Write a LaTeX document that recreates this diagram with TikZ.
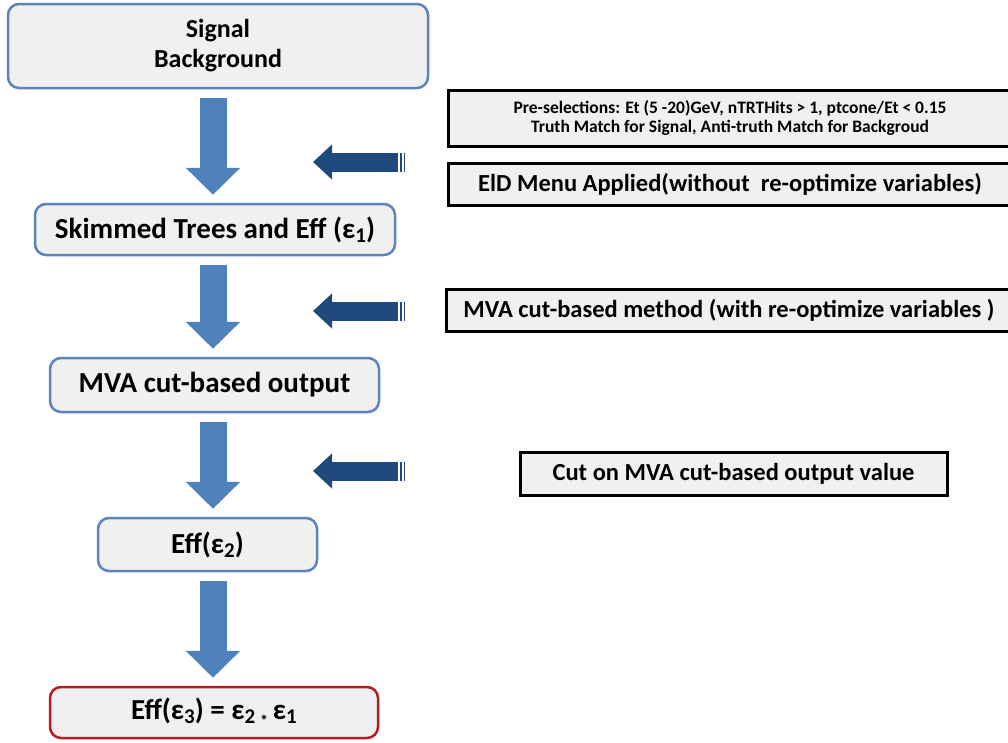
\documentclass[tikz,border=0pt]{standalone}
\usepackage{fontspec}
\setmainfont{Carlito}
\usetikzlibrary{arrows.meta}
\definecolor{boxblue}{RGB}{92,132,186}
\definecolor{arrblue}{RGB}{79,129,189}
\definecolor{darkarr}{RGB}{31,73,125}
\definecolor{boxfill}{RGB}{240,240,240}
\definecolor{boxred}{RGB}{180,30,35}
\newcommand{\eps}[1]{ε\raisebox{-4pt}{\fontsize{21}{21}\selectfont #1}}
\begin{document}
\begin{tikzpicture}[x=1pt,y=-1pt,
        flowbox/.style={draw=boxblue, line width=2.5pt, fill=boxfill, rounded corners=11pt,
            inner sep=0pt, font=\fontsize{29}{32}\selectfont\bfseries, align=center},
        resbox/.style={flowbox, draw=boxred},
        notebox/.style={draw=black, line width=3pt, fill=boxfill, inner sep=0pt,
            font=\fontsize{24.5}{26}\selectfont\bfseries, align=center},
        downarr/.style={draw=arrblue, line width=27pt, shorten <=9pt, shorten >=8pt,
            -{Triangle[width=53pt,length=27pt]}},
        leftarr/.style={draw=darkarr, line width=19pt,
            -{Triangle[width=34pt,length=19pt]}}]
        \clip (0,0) rectangle (1008,742);
        \fill[white] (0,0) rectangle (1008,742);
        \coordinate (col) at (213,0);
        \node[flowbox, minimum width=420pt, minimum height=84pt, font=\fontsize{26}{30}\selectfont\bfseries] (sigbkg) at (218,46) {Signal\\Background};
        \node[flowbox, minimum width=360pt, minimum height=51pt] (skim) at (215,229.5) {Skimmed Trees and Eff (\eps{1})};
        \node[flowbox, minimum width=329pt, minimum height=54pt] (mvaout) at (214.5,385) {MVA cut-based output};
        \node[flowbox, minimum width=219pt, minimum height=53pt] (eff2) at (207.5,544.5) {Eff(\eps{2})};
        \node[resbox, minimum width=328pt, minimum height=51pt] (eff3) at (214,712.5) {Eff(\eps{3}) = \eps{2}\,\raisebox{-7pt}{\fontsize{16}{16}\selectfont *}\,\eps{1}};
        \node[notebox, minimum width=564pt, minimum height=56pt, font=\fontsize{17.5}{19}\selectfont\bfseries] (presel) at (730,118)
            {Pre-selections: Et (5 -20)GeV, nTRTHits > 1, ptcone/Et < 0.15\\Truth Match for Signal, Anti-truth Match for Backgroud};
        \node[notebox, minimum width=564pt, minimum height=42pt] (eid) at (730,184) {ElD Menu Applied(without\ \ re-optimize variables)};
        \node[notebox, minimum width=566pt, minimum height=42pt] (mvameth) at (729,310) {MVA cut-based method (with re-optimize variables )};
        \node[notebox, minimum width=427pt, minimum height=43pt] (cutval) at (733.5,473.5) {Cut on MVA cut-based output value};
        \draw[downarr] (sigbkg.south -| col) -- (skim.north -| col);
        \draw[downarr] (skim.south -| col) -- (mvaout.north -| col);
        \draw[downarr] (mvaout.south -| col) -- (eff2.north -| col);
        \draw[downarr] (eff2.south -| col) -- (eff3.north -| col);
        \foreach \n/\y in {1/162,2/311,3/471} {
            \coordinate (in\n) at (398,\y);
            \draw[leftarr] (in\n) -- ++(-85,0);
            \fill[darkarr] ([xshift=2pt,yshift=-9.5pt]in\n) rectangle ++(2pt,19pt);
            \fill[darkarr] ([xshift=5.5pt,yshift=-9.5pt]in\n) rectangle ++(1.5pt,19pt);
        }
    \end{tikzpicture}
\end{document}
